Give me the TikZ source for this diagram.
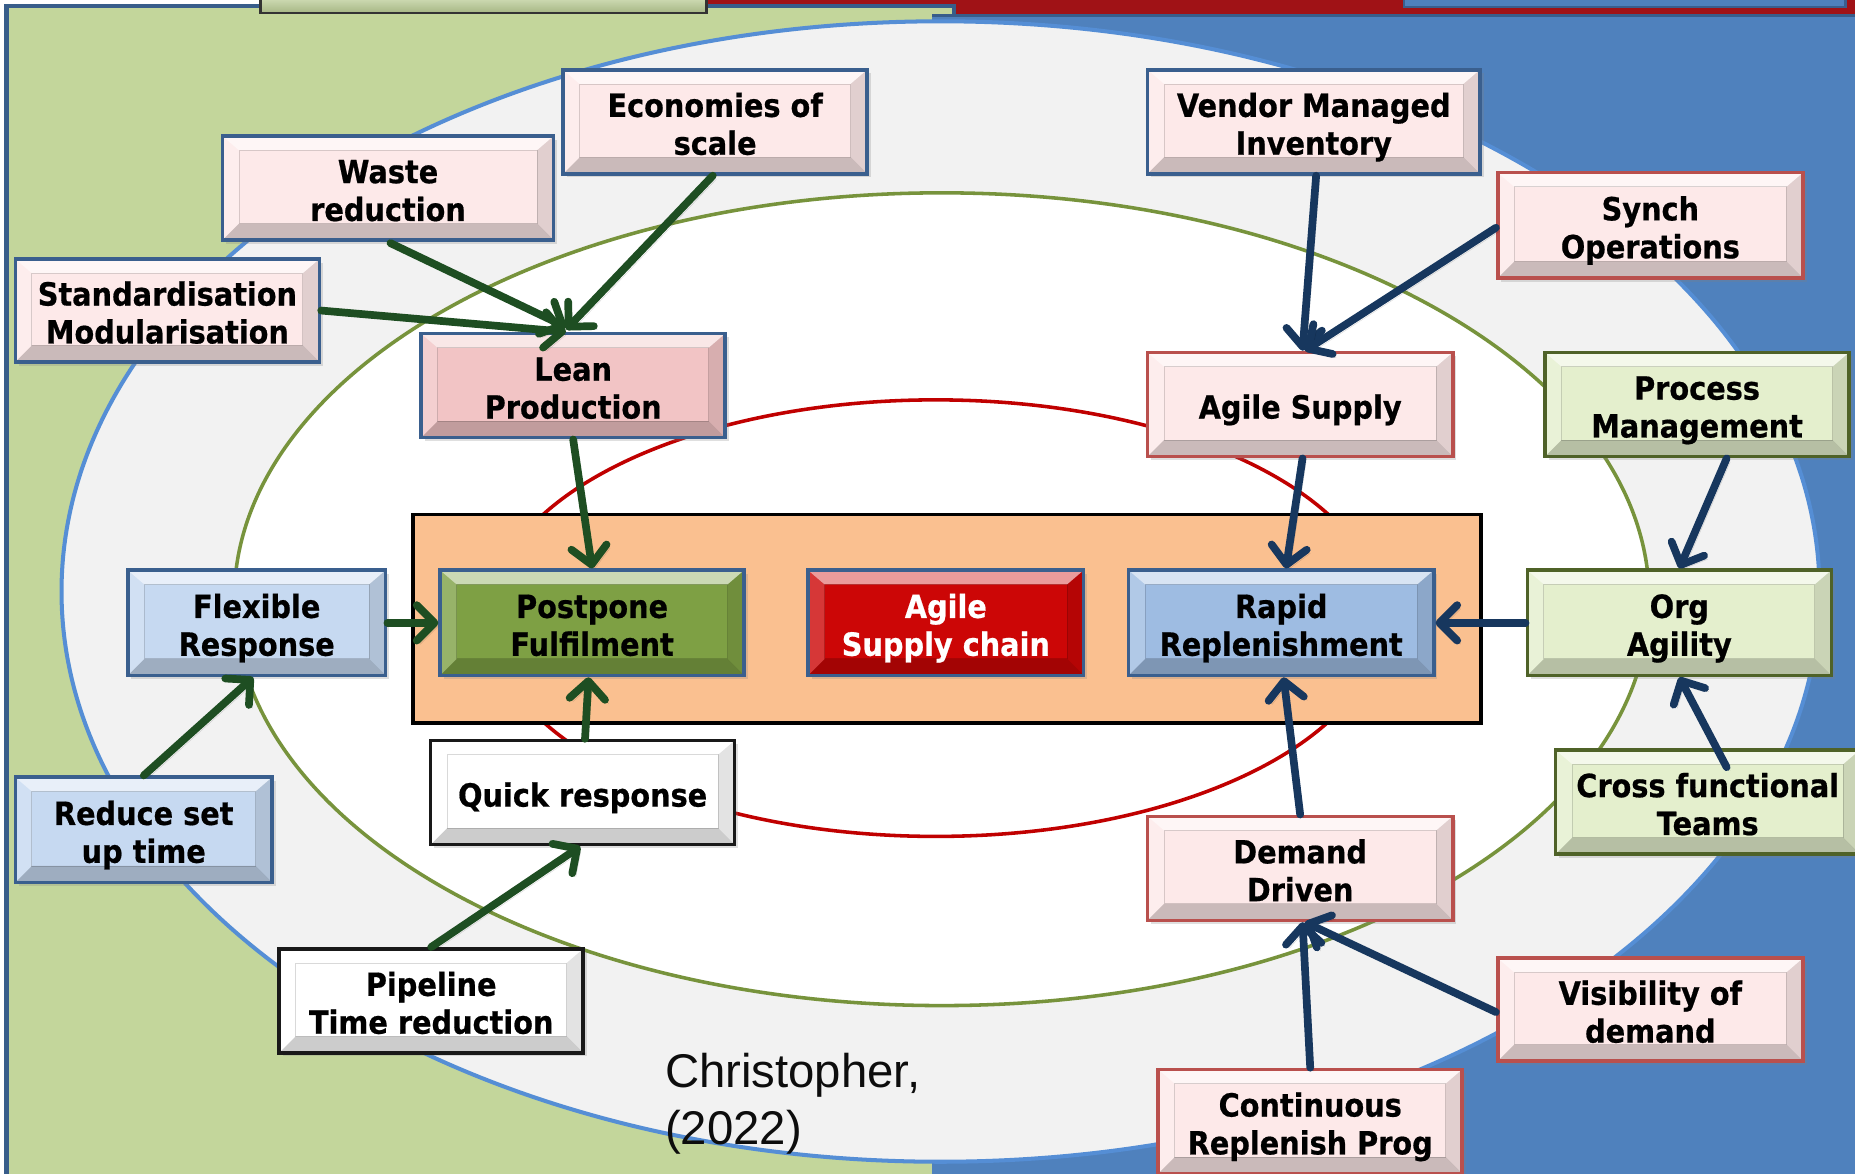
\documentclass[tikz,border=0pt]{standalone}
\usepackage{fontspec}
\newfontfamily\boxfont[FakeStretch=0.9,FakeBold=0.6]{DejaVu Sans}
\newfontfamily\citefont{Liberation Sans}
\usetikzlibrary{arrows.meta,shadows}

\definecolor{panelgreen}{RGB}{195,214,155}
\definecolor{panelblue}{RGB}{79,129,189}
\definecolor{paneledge}{RGB}{56,93,138}
\definecolor{stripred}{RGB}{160,18,22}
\definecolor{ringouter}{RGB}{85,142,213}
\definecolor{ringfill}{RGB}{242,242,242}
\definecolor{ringgreen}{RGB}{119,147,60}
\definecolor{ringred}{RGB}{192,0,0}
\definecolor{corefill}{RGB}{250,192,144}
\definecolor{pinkfill}{RGB}{253,233,233}
\definecolor{leanfill}{RGB}{242,196,197}
\definecolor{bluefill}{RGB}{198,217,241}
\definecolor{rapidfill}{RGB}{158,188,226}
\definecolor{limefill}{RGB}{228,239,205}
\definecolor{postfill}{RGB}{126,160,68}
\definecolor{scfill}{RGB}{204,6,6}
\definecolor{edgeblue}{RGB}{58,95,142}
\definecolor{edgered}{RGB}{185,80,77}
\definecolor{edgegreen}{RGB}{79,98,40}
\definecolor{arrgreen}{RGB}{30,78,34}
\definecolor{arrblue}{RGB}{23,55,94}

% height reserved above the last baseline of a label (two-line default)
\def\labeltop{62.6pt}

\tikzset{
  bevel/.style={path picture={
    \def\pb{path picture bounding box}
    \fill[white,opacity=.6] (\pb.north west) -- (\pb.north east)
      -- ([shift={(-14pt,-12pt)}]\pb.north east) -- ([shift={(14pt,-12pt)}]\pb.north west) -- cycle;
    \fill[white,opacity=.2] (\pb.north west) -- ([shift={(14pt,-12pt)}]\pb.north west)
      -- ([shift={(14pt,14pt)}]\pb.south west) -- (\pb.south west) -- cycle;
    \fill[black,opacity=.11] (\pb.north east) -- ([shift={(-14pt,-12pt)}]\pb.north east)
      -- ([shift={(-14pt,14pt)}]\pb.south east) -- (\pb.south east) -- cycle;
    \fill[black,opacity=.2] (\pb.south west) -- ([shift={(14pt,14pt)}]\pb.south west)
      -- ([shift={(-14pt,14pt)}]\pb.south east) -- (\pb.south east) -- cycle;
    \draw[black,opacity=.15,line width=.8pt] ([shift={(14pt,14pt)}]\pb.south west)
      rectangle ([shift={(-14pt,-12pt)}]\pb.north east);
  }},
  % fixed line box so that every label sits at the same height
  factor/.style={draw=edgeblue, fill=pinkfill, line width=3pt,
    minimum width=257pt, minimum height=88pt, inner sep=0pt, align=center,
    font=\boxfont\bfseries\fontsize{27}{32}\selectfont,
    execute at begin node={\rule{0pt}{\labeltop}},
    execute at end node={\rule[-7pt]{0pt}{7pt}},
    drop shadow={shadow xshift=3pt, shadow yshift=-3pt, opacity=.25},
    bevel},
  oneline/.code={\def\labeltop{30.6pt}},
  redrim/.style={factor, draw=edgered},
  greenrim/.style={factor, draw=edgegreen, fill=limefill},
  bluebox/.style={factor, fill=bluefill},
  plainbox/.style={factor, draw=black!90, fill=white},
  arr/.style={line width=6.5pt, line cap=round,
    -{Straight Barb[length=15pt, width=30pt, round]},
    preaction={draw=black, draw opacity=.15, transform canvas={shift={(3pt,-3pt)}}}},
  garr/.style={arr, draw=arrgreen},
  barr/.style={arr, draw=arrblue}
}

\begin{document}
\begin{tikzpicture}[x=1pt,y=-1pt]
\useasboundingbox (0,0) rectangle (1568,992);
\begin{scope}
\clip (0,0) rectangle (1568,992);

% background panels
\fill[white] (0,0) rectangle (1568,992);
\fill[stripred] (598,-2) rectangle (1572,12);
\fill[panelgreen] (5.5,5) rectangle (806,996);
\draw[paneledge, line width=3.4pt] (5.5,998) -- (5.5,5) -- (806,5) -- (806,13);
\fill[panelblue] (788,13) rectangle (1572,996);
\draw[paneledge, line width=3pt] (788,13) -- (1572,13);
\draw[black!80, line width=2.5pt, top color=limefill, bottom color=panelgreen!85!black]
  (220,-8) rectangle (597,11);
\draw[edgeblue, line width=2pt, fill=panelblue] (1187,-8) rectangle (1560,6);

% rings
\draw[ringouter, fill=ringfill, line width=3.4pt] (795,500) ellipse [x radius=743, y radius=482];
\draw[ringgreen, fill=white, line width=3pt] (796,506.5) ellipse [x radius=598, y radius=343.5];
\draw[ringred, line width=3pt] (791,522.5) ellipse [x radius=377, y radius=184.5];

% core frame
\node[draw=black, line width=3pt, fill=corefill, minimum width=903pt, minimum height=176pt,
  inner sep=0pt] (core) at (800.5,523) {};

% lean side
\node[factor] (econ) at (604.5,103) {Economies of\\scale};
\node[factor, minimum width=280pt] (waste) at (328,159) {Waste\\reduction};
\node[factor, minimum height=87pt] (std) at (141.5,262.5) {Standardisation\\Modularisation};
\node[factor, fill=leanfill] (lean) at (484.5,326) {Lean\\Production};
\node[bluebox, minimum width=218pt, minimum height=89pt] (flex) at (217,526.5) {Flexible\\Response};
\node[bluebox, minimum width=217pt, minimum height=89pt] (reduce) at (121.5,701.5) {Reduce set\\up time};
\node[plainbox, oneline] (quick) at (492.5,670) {Quick response};
\node[plainbox] (pipe) at (364.5,846) {Pipeline\\Time reduction};

% agile side
\node[factor, minimum width=281pt] (vmi) at (1110.5,103) {Vendor Managed\\Inventory};
\node[redrim, minimum width=258pt, minimum height=89pt] (synch) at (1395,190.5) {Synch\\Operations};
\node[redrim, oneline, minimum width=258pt] (agsup) at (1099,342) {Agile Supply};
\node[greenrim] (proc) at (1434.5,342) {Process\\Management};
\node[greenrim, minimum height=89pt] (org) at (1419.5,526.5) {Org\\Agility};
\node[greenrim] (cross) at (1443.5,678) {Cross functional\\Teams};
\node[redrim, minimum width=258pt] (demand) at (1099,734) {Demand\\Driven};
\node[redrim, minimum width=258pt, minimum height=87pt] (vis) at (1395,853.5) {Visibility of\\demand};
\node[redrim] (cont) at (1107.5,948) {Continuous\\Replenish Prog};

% core strategies
\node[factor, fill=postfill, minimum height=89pt] (post) at (500.5,526.5) {Postpone\\Fulfilment};
\node[factor, fill=scfill, text=white, minimum width=233pt, minimum height=89pt] (asc) at (799.5,526.5) {Agile\\Supply chain};
\node[factor, fill=rapidfill, minimum width=258pt, minimum height=89pt] (rapid) at (1083,526.5) {Rapid\\Replenishment};

% lean links
\draw[garr] ([xshift=-2pt]econ.south) -- ([xshift=-6pt,yshift=2pt]lean.north);
\draw[garr] ([xshift=2pt,yshift=-1pt]waste.south) -- ([xshift=-6pt,yshift=4pt]lean.north);
\draw[garr] (std.east) -- ([xshift=-6pt]lean.north);
\draw[garr] (lean.south) -- (post.north);
\draw[garr] (flex.east) -- (post.west);
\draw[garr] ([xshift=2pt]quick.north) -- ([xshift=-3pt]post.south);
\draw[garr] (reduce.north) -- ([xshift=-3pt]flex.south);
\draw[garr] (pipe.north) -- ([xshift=-2pt]quick.south);

% agile links
\draw[barr] ([xshift=2pt]vmi.south) -- ([xshift=2pt]agsup.north);
\draw[barr] ([yshift=-2pt]synch.west) -- ([xshift=4pt]agsup.north);
\draw[barr] ([xshift=2pt]agsup.south) -- ([xshift=4pt]rapid.north);
\draw[barr] (org.west) -- (rapid.east);
\draw[barr] ([xshift=25pt]proc.south) -- (org.north);
\draw[barr] ([xshift=16pt,yshift=-16pt]cross.north) -- (org.south);
\draw[barr] (demand.north) -- ([xshift=2pt]rapid.south);
\draw[barr] ([yshift=-2pt]vis.west) -- ([xshift=4pt]demand.south);
\draw[barr] (cont.north) -- ([xshift=2pt]demand.south);

% source
\node[anchor=north west, inner sep=0pt, align=left, text=black!95,
  font=\citefont\fontsize{40}{48}\selectfont] (src) at (562,890) {Christopher,\\(2022)};
\end{scope}
\end{tikzpicture}
\end{document}
